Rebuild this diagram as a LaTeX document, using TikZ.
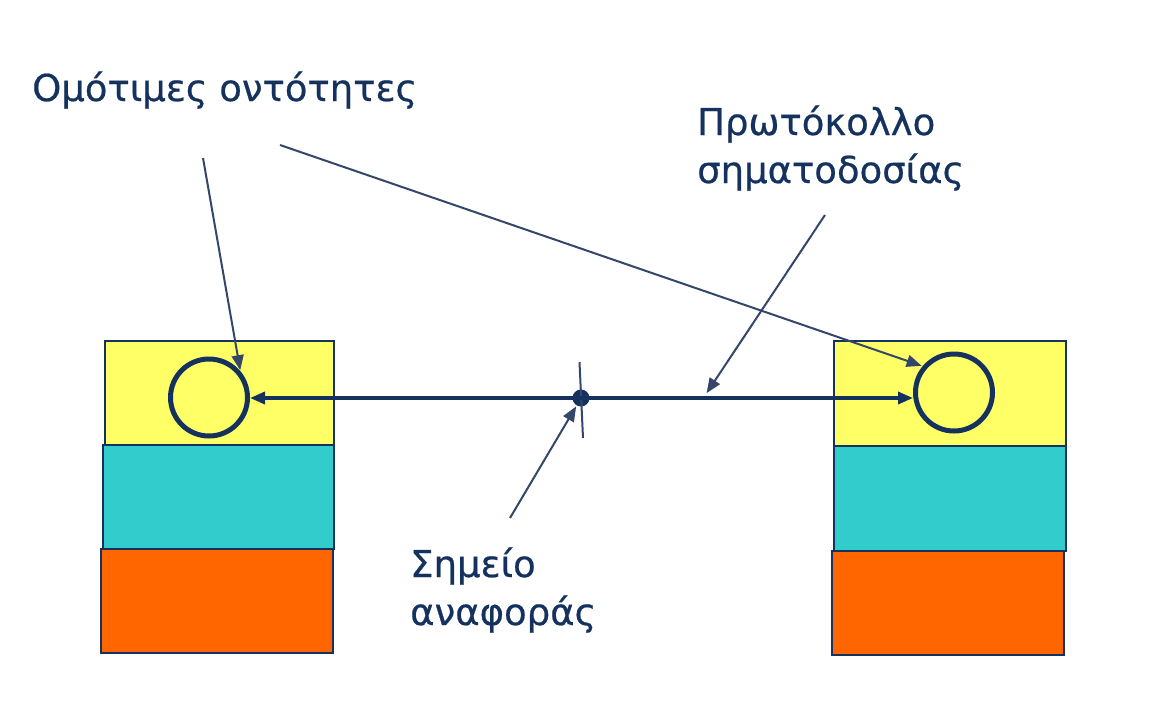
\documentclass[tikz,border=0pt]{standalone}
\usepackage{fontspec}
\setmainfont{DejaVu Sans}
\newfontfamily\labelfont{DejaVu Sans}[BoldFont=DejaVu Sans,
  BoldFeatures={FakeBold=0.6}]
\usetikzlibrary{arrows.meta, positioning, calc}
\definecolor{layeryellow}{HTML}{FFFF66}
\definecolor{layercyan}{HTML}{33CCCC}
\definecolor{layerorange}{HTML}{FF6600}
\definecolor{peernavy}{HTML}{15325F}
\definecolor{notegray}{HTML}{34466A}
\begin{document}
\begin{tikzpicture}[
  x=1pt, y=-1pt,
  layer/.style={draw=peernavy, line width=2pt, minimum width=230pt,
    minimum height=104pt, inner sep=0pt},
  peer/.style={draw=peernavy, circle, line width=5pt, minimum size=77pt,
    inner sep=0pt},
  label/.style={font=\labelfont\bfseries\fontsize{37}{48}\selectfont,
    text=peernavy, anchor=base west, inner sep=0pt, align=left},
  note/.style={draw=notegray, line width=2pt,
    -{Triangle[length=15pt, width=12pt]}, shorten >=1pt},
  >={Triangle[length=15pt, width=12pt]}
]
  \useasboundingbox (0,0) rectangle (1152,710);

  % Left stack
  \node[layer, fill=layeryellow, minimum width=229pt] (ltop) at (219.5, 393) {};
  \node[layer, fill=layercyan, minimum width=231pt] (lmid) at (218.5, 497) {};
  \node[layer, fill=layerorange, minimum width=232pt] (lbot) at (217, 601) {};

  % Right stack
  \node[layer, fill=layeryellow, minimum width=232pt, minimum height=105pt]
    (rtop) at (950, 393.5) {};
  \node[layer, fill=layercyan, minimum width=232pt, minimum height=105pt]
    (rmid) at (950, 498.5) {};
  \node[layer, fill=layerorange, minimum width=232pt] (rbot) at (948, 603) {};

  % Peer entities
  \node[peer] (lpeer) at (209, 397.5) {};
  \node[peer] (rpeer) at (954, 392.5) {};

  % Reference point
  \node[circle, fill=peernavy, minimum size=17pt, inner sep=0pt] (ref)
    at (581, 398) {};
  \coordinate (tickup) at (579.5, 362);
  \coordinate (tickdn) at (583, 438);
  \draw[notegray, line width=2pt] (tickup) -- (tickdn);
  \draw[peernavy, line width=3.4pt, <->] (lpeer.east |- ref)
    -- (rpeer.west |- ref);

  % Labels (base = last line)
  \node[label] (peers) at (32, 101) {Ομότιμες οντότητες};
  \node[label] (proto) at (697, 183) {Πρωτόκολλο\\σηματοδοσίας};
  \node[label] (refpt) at (410, 625) {Σημείο\\αναφοράς};

  % Pointers from the labels
  \coordinate (peersa) at (203, 158);
  \coordinate (peersb) at (280, 145);
  \coordinate (protoa) at (825, 215);
  \coordinate (refpta) at (510, 518);
  \coordinate (protob) at (706, 394);
  \draw[note] (peersa) -- (lpeer.40);
  \draw[note] (peersb) -- (rpeer.140);
  \draw[note] (protoa) -- (protob);
  \draw[note] (refpta) -- (ref.-120);
\end{tikzpicture}
\end{document}
